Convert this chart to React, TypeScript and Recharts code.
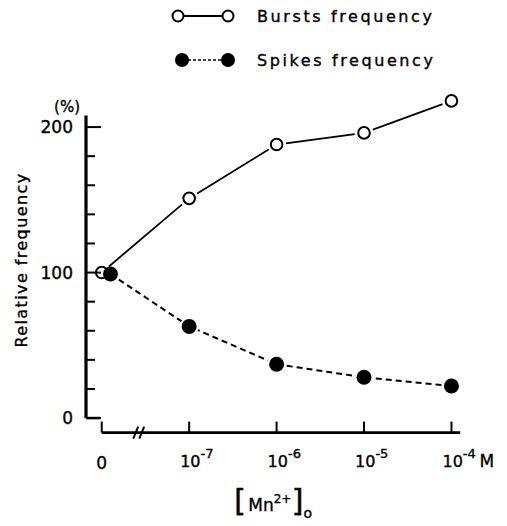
import React from 'react';
import {
  LineChart,
  Line,
  XAxis,
  YAxis,
  ReferenceLine,
  ReferenceDot,
  Legend,
} from 'recharts';

// Concentration steps on a broken axis: control (0), then 10^-7 … 10^-4 M
const concentrationIndex = [0, 1, 2, 3, 4];
const xTickBase = ['0', '10', '10', '10', '10'];
const xTickExponent = ['', '-7', '-6', '-5', '-4'];

// Relative frequency (% of control)
const burstsFrequency = [100, 151, 188, 196, 218];
const spikesFrequency = [99, 63, 37, 28, 22];

// The filled control point is nudged right so it does not hide the open one
const controlOffset = 0.1;

const yTicks = [0, 20, 40, 60, 80, 100, 120, 140, 160, 180, 200];
const yMajorTicks = [0, 100, 200];

const X_DOMAIN: [number, number] = [-0.18, 4.1];
const Y_DOMAIN: [number, number] = [-10, 225];
const Y_AXIS_TOP = 208;

const FONT = '"DejaVu Sans", sans-serif';
const INK = '#000';
// slightly heavier lettering
const textInk = { fill: INK, stroke: INK, strokeWidth: 0.35 };

const burstsData = concentrationIndex.map((x, i) => ({ x, value: burstsFrequency[i] }));
const spikesData = concentrationIndex.map((x, i) => ({
  x: i === 0 ? x + controlOffset : x,
  value: spikesFrequency[i],
}));

const OpenDot = (props: any) => {
  const { cx, cy, index } = props;
  if (cx == null || cy == null) return <g key={`o-${index}`} />;
  return (
    <g key={`o-${index}`}>
      <circle cx={cx} cy={cy} r={9.5} fill="#fff" />
      <circle cx={cx} cy={cy} r={5.8} fill="#fff" stroke={INK} strokeWidth={2} />
    </g>
  );
};

const FilledDot = (props: any) => {
  const { cx, cy, index } = props;
  if (cx == null || cy == null) return <g key={`f-${index}`} />;
  return (
    <g key={`f-${index}`}>
      {index !== 0 && <circle cx={cx} cy={cy} r={9.5} fill="#fff" />}
      <circle cx={cx} cy={cy} r={7.5} fill={INK} />
    </g>
  );
};

const YTick = (props: any) => {
  const { x, y, payload } = props;
  const v = payload.value as number;
  const major = yMajorTicks.includes(v);
  return (
    <g>
      <line x1={x} x2={x + (major ? 15 : 9)} y1={y} y2={y} stroke={INK} strokeWidth={2} />
      {major && (
        <text x={x - 13} y={y} dy={6} textAnchor="end" fontFamily={FONT} fontSize={17} {...textInk}>
          {v}
        </text>
      )}
      {v === 200 && (
        <text x={x - 6} y={y - 15} textAnchor="end" fontFamily={FONT} fontSize={15} {...textInk}>
          (%)
        </text>
      )}
    </g>
  );
};

const XTick = (props: any) => {
  const { x, y, payload, index } = props;
  const i = concentrationIndex.indexOf(payload.value);
  const exp = xTickExponent[i];
  return (
    <g>
      <line x1={x} x2={x} y1={y} y2={y - 11} stroke={INK} strokeWidth={2} />
      {exp ? (
        <text x={x - 9} y={y + 34} textAnchor="start" fontFamily={FONT} fontSize={16} {...textInk}>
          <tspan>{xTickBase[i]}</tspan>
          <tspan dy={-9} fontSize={13}>{exp}</tspan>
        </text>
      ) : (
        <text x={x} y={y + 36} textAnchor="middle" fontFamily={FONT} fontSize={17} {...textInk}>
          {xTickBase[i]}
        </text>
      )}
      {index === concentrationIndex.length - 1 && (
        <text x={x + 28} y={y + 34} textAnchor="start" fontFamily={FONT} fontSize={17} {...textInk}>
          M
        </text>
      )}
    </g>
  );
};

const BreakMark = (props: any) => {
  const { cx, cy } = props;
  return (
    <g>
      <line x1={cx - 7} y1={cy + 6} x2={cx - 2} y2={cy - 6} stroke={INK} strokeWidth={2} />
      <line x1={cx - 1} y1={cy + 6} x2={cx + 4} y2={cy - 6} stroke={INK} strokeWidth={2} />
    </g>
  );
};

const XAxisTitle = (props: any) => {
  const { viewBox } = props;
  const cx = viewBox.x + viewBox.width / 2;
  const base = viewBox.y + 78;
  return (
    <text x={cx} y={base} textAnchor="middle" fontFamily={FONT} {...textInk}>
      <tspan fontSize={31}>[</tspan>
      <tspan fontSize={17} dx={2}>Mn</tspan>
      <tspan fontSize={12} dy={-8}>2+</tspan>
      <tspan fontSize={31} dy={8}>]</tspan>
      <tspan fontSize={14} dy={7}>o</tspan>
    </text>
  );
};

const YAxisTitle = () => {
  const x = 27;
  const y = 260;
  return (
    <text
      x={x}
      y={y}
      transform={`rotate(-90 ${x} ${y})`}
      textAnchor="middle"
      fontFamily={FONT}
      fontSize={16}
      letterSpacing={1.4}
      {...textInk}
    >
      Relative frequency
    </text>
  );
};

const LegendContent = () => (
  <svg width={320} height={80} style={{ display: 'block' }}>
    <g>
      <line x1={43} x2={83} y1={16} y2={16} stroke={INK} strokeWidth={2} />
      <circle cx={38} cy={16} r={5.5} fill="#fff" stroke={INK} strokeWidth={2} />
      <circle cx={88} cy={16} r={5.5} fill="#fff" stroke={INK} strokeWidth={2} />
      <text x={117} y={22} fontFamily={FONT} fontSize={16} letterSpacing={2.6} {...textInk}>
        Bursts frequency
      </text>
    </g>
    <g>
      <line x1={48} x2={82} y1={60} y2={60} stroke={INK} strokeWidth={1.5} strokeDasharray="3 2" />
      <circle cx={42} cy={60} r={7} fill={INK} />
      <circle cx={88} cy={60} r={7} fill={INK} />
      <text x={117} y={66} fontFamily={FONT} fontSize={16} letterSpacing={2.6} {...textInk}>
        Spikes frequency
      </text>
    </g>
  </svg>
);

export default function App() {
  return (
    <div style={{ position: 'absolute', left: 0, top: 0, background: '#fff' }}>
      <LineChart
        width={507}
        height={526}
        margin={{ top: 90.7, right: 46.8, bottom: 33.4, left: 26 }}
      >
        <Legend
          layout="vertical"
          align="center"
          verticalAlign="middle"
          wrapperStyle={{ left: 140, top: 0, width: 320, height: 80 }}
          content={LegendContent}
        />
        <XAxis
          type="number"
          dataKey="x"
          domain={X_DOMAIN}
          ticks={concentrationIndex}
          interval={0}
          allowDataOverflow
          axisLine={false}
          tickLine={false}
          tickSize={0}
          tickMargin={0}
          tick={XTick}
          height={60}
          label={XAxisTitle}
        />
        <YAxis
          type="number"
          domain={Y_DOMAIN}
          ticks={yTicks}
          interval={0}
          allowDataOverflow
          axisLine={false}
          tickLine={false}
          tickSize={0}
          tickMargin={0}
          tick={YTick}
          width={60}
          label={YAxisTitle}
        />
        {/* vertical axis with its short foot at zero */}
        <ReferenceLine
          segment={[{ x: X_DOMAIN[0], y: 0 }, { x: X_DOMAIN[0], y: Y_AXIS_TOP }]}
          stroke={INK}
          strokeWidth={3.2}
          ifOverflow="visible"
        />
        <ReferenceLine
          segment={[{ x: X_DOMAIN[0], y: 0 }, { x: -0.02, y: 0 }]}
          stroke={INK}
          strokeWidth={2.5}
          ifOverflow="visible"
        />
        {/* horizontal axis starting at the control position */}
        <ReferenceLine
          segment={[{ x: 0, y: Y_DOMAIN[0] }, { x: X_DOMAIN[1], y: Y_DOMAIN[0] }]}
          stroke={INK}
          strokeWidth={2.6}
          ifOverflow="visible"
        />
        <ReferenceDot x={0.44} y={Y_DOMAIN[0]} ifOverflow="visible" shape={BreakMark} />
        <Line
          data={burstsData}
          dataKey="value"
          type="linear"
          stroke={INK}
          strokeWidth={1.8}
          dot={OpenDot}
          activeDot={false}
          isAnimationActive={false}
        />
        <Line
          data={spikesData}
          dataKey="value"
          type="linear"
          stroke={INK}
          strokeWidth={2}
          strokeDasharray="6 4"
          dot={FilledDot}
          activeDot={false}
          isAnimationActive={false}
        />
      </LineChart>
    </div>
  );
}
